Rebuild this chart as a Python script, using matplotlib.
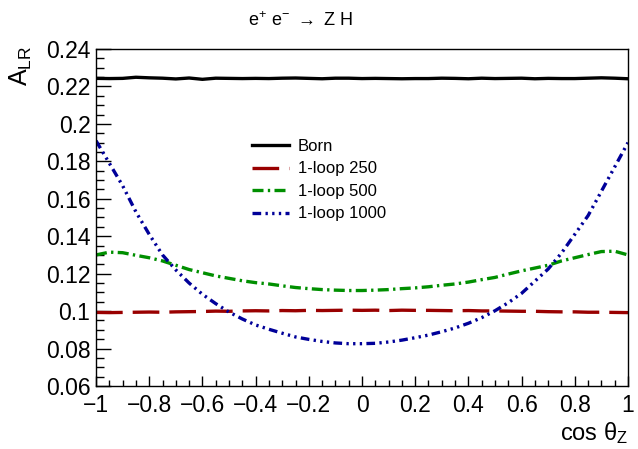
import numpy as np
import matplotlib
matplotlib.use("Agg")
import matplotlib.pyplot as plt
from matplotlib.ticker import MultipleLocator, AutoMinorLocator, FuncFormatter

plt.rcParams['font.family'] = ['Liberation Sans', 'DejaVu Sans']
plt.rcParams['mathtext.fontset'] = 'custom'
plt.rcParams['mathtext.rm'] = 'Liberation Sans'
plt.rcParams['mathtext.it'] = 'Liberation Sans'
plt.rcParams['mathtext.sf'] = 'Liberation Sans'

cos_theta = [-1.00, -0.95, -0.90, -0.85, -0.80, -0.75, -0.70, -0.65, -0.60, -0.55,
             -0.50, -0.45, -0.40, -0.35, -0.30, -0.25, -0.20, -0.15, -0.10, -0.05,
             0.00, 0.05, 0.10, 0.15, 0.20, 0.25, 0.30, 0.35, 0.40, 0.45,
             0.50, 0.55, 0.60, 0.65, 0.70, 0.75, 0.80, 0.85, 0.90, 0.95, 1.00]

born = [0.2243, 0.2242, 0.2243, 0.2249, 0.2246, 0.2244, 0.2240, 0.2245, 0.2238, 0.2244,
        0.2243, 0.2242, 0.2243, 0.2242, 0.2244, 0.2245, 0.2243, 0.2241, 0.2244, 0.2244,
        0.2242, 0.2243, 0.2242, 0.2241, 0.2242, 0.2242, 0.2244, 0.2243, 0.2241, 0.2244,
        0.2242, 0.2243, 0.2244, 0.2241, 0.2243, 0.2242, 0.2242, 0.2244, 0.2246, 0.2244, 0.2241]

loop250 = [0.0993, 0.0992, 0.0993, 0.0994, 0.0995, 0.0994, 0.0996, 0.0997, 0.0998, 0.1000,
           0.0999, 0.1001, 0.1002, 0.1001, 0.1003, 0.1002, 0.1004, 0.1003, 0.1004, 0.1005,
           0.1004, 0.1005, 0.1003, 0.1005, 0.1004, 0.1004, 0.1003, 0.1002, 0.1003, 0.1001,
           0.1001, 0.1000, 0.0999, 0.0999, 0.0997, 0.0996, 0.0996, 0.0994, 0.0994, 0.0993, 0.0992]

loop500 = [0.1300, 0.1315, 0.1312, 0.1298, 0.1285, 0.1268, 0.1245, 0.1222, 0.1205, 0.1188,
           0.1175, 0.1162, 0.1152, 0.1145, 0.1135, 0.1126, 0.1120, 0.1115, 0.1112, 0.1110,
           0.1110, 0.1112, 0.1115, 0.1120, 0.1124, 0.1130, 0.1138, 0.1145, 0.1155, 0.1168,
           0.1180, 0.1198, 0.1215, 0.1230, 0.1245, 0.1268, 0.1285, 0.1302, 0.1318, 0.1320, 0.1300]

loop1000 = [0.1910, 0.1790, 0.1670, 0.1530, 0.1410, 0.1300, 0.1220, 0.1150, 0.1090, 0.1040,
            0.0995, 0.0958, 0.0926, 0.0903, 0.0882, 0.0862, 0.0849, 0.0838, 0.0830, 0.0826,
            0.0826, 0.0828, 0.0835, 0.0845, 0.0858, 0.0872, 0.0890, 0.0910, 0.0935, 0.0965,
            0.1002, 0.1045, 0.1095, 0.1160, 0.1225, 0.1310, 0.1410, 0.1510, 0.1640, 0.1770, 0.1900]

labels = ['Born', '1-loop 250', '1-loop 500', '1-loop 1000']
colors = ['black', '#990000', '#008f00', '#000099']

fig = plt.figure(figsize=(6.38, 4.49), dpi=100)
ax = fig.add_axes([0.1505, 0.1403, 0.8338, 0.7506])

lw = 2.4
ax.plot(cos_theta, born, color=colors[0], lw=lw, label=labels[0])
ax.plot(cos_theta, loop250, color=colors[1], lw=lw, label=labels[1], dashes=(8, 3))
ax.plot(cos_theta, loop500, color=colors[2], lw=lw, label=labels[2], dashes=(3.3, 1.3, 0.7, 1.3))
ax.plot(cos_theta, loop1000, color=colors[3], lw=lw, label=labels[3],
        dashes=(2.6, 1.3, 0.7, 1.3, 0.7, 1.3, 0.7, 1.3))

ax.set_xlim(-1, 1)
ax.set_ylim(0.06, 0.24)
ax.xaxis.set_major_locator(MultipleLocator(0.2))
ax.xaxis.set_minor_locator(AutoMinorLocator(4))
ax.yaxis.set_major_locator(MultipleLocator(0.02))
ax.yaxis.set_minor_locator(AutoMinorLocator(4))

def fmt(v, pos):
    s = f"{round(v, 4):g}"
    if s == "-0":
        s = "0"
    return s.replace('-', '\u2212')

ax.xaxis.set_major_formatter(FuncFormatter(fmt))
ax.yaxis.set_major_formatter(FuncFormatter(fmt))

ax.tick_params(axis='both', which='both', direction='in', top=False, right=False,
               labelsize=16.5, width=1.0)
ax.tick_params(axis='y', which='major', length=10.8, pad=4)
ax.tick_params(axis='y', which='minor', length=5.4)
ax.tick_params(axis='x', which='major', length=7.2, pad=6)
ax.tick_params(axis='x', which='minor', length=4.3)
for sp in ax.spines.values():
    sp.set_linewidth(1.0)

fig.text(0.47, 0.955, r'e$^{+}$ e$^{-}$ $\rightarrow$ Z H', ha='center', va='center', fontsize=13)
fig.text(0.032, 0.853, r'A$_{\mathrm{LR}}$', rotation=90, ha='center', va='center', fontsize=18)
fig.text(0.984, 0.035, r'cos $\theta_{\mathrm{Z}}$', ha='right', va='center', fontsize=17)

leg = ax.legend(loc='upper left', bbox_to_anchor=(0.293, 0.733), frameon=False,
                fontsize=12, handlelength=2.2, handletextpad=0.55, labelspacing=0.45,
                borderpad=0, borderaxespad=0)

fig.savefig('out.png', dpi=100)
